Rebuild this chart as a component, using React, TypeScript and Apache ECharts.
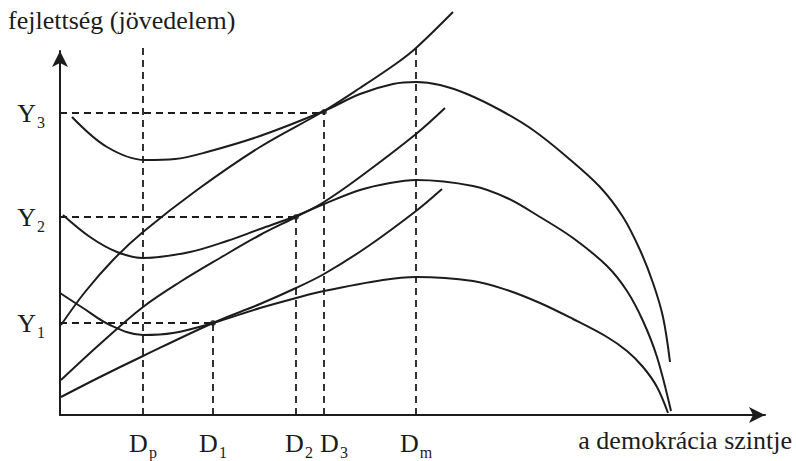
import React, { useEffect, useRef } from 'react';
import * as echarts from 'echarts';

// ---- texts ----
const yTitle = 'fejlettség (jövedelem)';
const xTitle = 'a demokrácia szintje';

// ---- tick labels (D with subscript, Y with subscript) ----
const dSubs = ['p', '1', '2', '3', 'm'];
const dValues = [83, 153, 236, 264, 356];
const dTops = [372, 92, 198, 303, 372];
const ySubs = ['1', '2', '3'];
const yValues = [92, 198, 302];
const yEnds = [153, 236, 264];

// ---- tangent points ----
const tangentPoints = [
  [153, 92],
  [236, 198],
  [264, 303],
];

// ---- humped curves ----
const curveTop = [
  [12, 298], [47, 268], [85, 255], [115, 256], [147, 263], [200, 279], [264, 304],
  [300, 321], [333, 331], [356, 333], [380, 330], [407, 321], [440, 305], [473, 285],
  [507, 258], [540, 228], [563, 198], [580, 165], [593, 132], [603, 98], [610, 53],
];
const curveMid = [
  [3, 200], [30, 178], [57, 163], [83, 157], [130, 163], [167, 174], [200, 186],
  [236, 199], [264, 211], [300, 225], [330, 232], [356, 235], [413, 229], [447, 217],
  [480, 198], [513, 177], [547, 149], [567, 124], [583, 94], [597, 58], [611, 4],
];
const curveLow = [
  [0, 122], [23, 107], [50, 90], [83, 80], [113, 82], [153, 92], [200, 107],
  [236, 117], [264, 124], [323, 135], [356, 138], [413, 134], [447, 125], [480, 112],
  [513, 96], [547, 78], [567, 64], [583, 48], [597, 28], [608, 2],
];

// ---- rising curves ----
const riseTop = [
  [1, 90], [25, 123], [53, 155], [83, 183], [137, 225], [200, 268], [264, 304],
  [300, 327], [337, 352], [356, 367], [393, 403],
];
const riseMid = [
  [1, 35], [40, 71], [83, 108], [120, 133], [160, 157], [200, 180], [236, 198],
  [264, 213], [300, 238], [356, 281], [385, 307],
];
const riseLow = [
  [1, 18], [40, 38], [83, 59], [153, 92], [200, 111], [236, 127], [264, 141],
  [307, 168], [356, 204], [382, 226],
];

const FONT = "'Liberation Serif', 'Times New Roman', serif";
const INK = '#1c1c1c';

export default function App() {
  const ref = useRef<HTMLDivElement>(null);
  useEffect(() => {
    if (!ref.current) return;
    const chart = echarts.init(ref.current, undefined, { renderer: 'svg' });

    const solid = (data: number[][]) => ({
      type: 'line',
      data,
      smooth: 0.35,
      showSymbol: false,
      clip: false,
      silent: true,
      lineStyle: { color: INK, width: 2 },
    });
    const dashed = (data: number[][]) => ({
      type: 'line',
      data,
      showSymbol: false,
      clip: false,
      silent: true,
      lineStyle: { color: INK, width: 1.8, type: [7, 5] },
    });

    const series: any[] = [];
    dValues.forEach((x, i) => series.push(dashed([[x, 0], [x, dTops[i]]])));
    yValues.forEach((y, i) => series.push(dashed([[0, y], [yEnds[i], y]])));
    [curveTop, curveMid, curveLow, riseTop, riseMid, riseLow].forEach((c) => series.push(solid(c)));
    series.push({
      type: 'scatter',
      data: tangentPoints,
      symbolSize: 6,
      clip: false,
      itemStyle: { color: INK },
      silent: true,
    });

    const main = { fontSize: 26, fontFamily: FONT, color: INK };
    const rich = {
      m: main,
      m2: { ...main, padding: [0, 0, 0, 6] },
      m3: { ...main, padding: [0, 0, 0, 20] },
      s: { fontSize: 16, fontFamily: FONT, color: INK, padding: [18, 0, 0, 1] },
    };
    const dStyle = (sub: string) => (sub === '2' ? 'm2' : sub === '3' ? 'm3' : 'm');

    chart.setOption({
      animation: false,
      textStyle: { fontFamily: FONT },
      title: [
        {
          text: yTitle,
          left: 8,
          top: 7,
          padding: 0,
          textStyle: { fontSize: 26, fontWeight: 'normal', fontFamily: FONT, color: INK },
        },
        {
          text: xTitle,
          right: 4,
          top: 427,
          padding: 0,
          textStyle: { fontSize: 26, fontWeight: 'normal', fontFamily: FONT, color: INK },
        },
      ],
      grid: { left: 60, right: 31, top: 51, bottom: 46 },
      xAxis: {
        type: 'value',
        min: 0,
        max: 705,
        splitLine: { show: false },
        axisTick: { show: false },
        axisLine: {
          lineStyle: { color: INK, width: 2 },
          symbol: ['none', 'arrow'],
          symbolSize: [12, 16],
        },
        axisLabel: {
          customValues: dValues,
          margin: 11,
          formatter: (v: number) => {
            const i = dValues.indexOf(v);
            return i < 0 ? '' : `{${dStyle(dSubs[i])}|D}{s|${dSubs[i]}}`;
          },
          rich,
        },
      },
      yAxis: {
        type: 'value',
        min: 0,
        max: 364,
        splitLine: { show: false },
        axisTick: { show: false },
        axisLine: {
          lineStyle: { color: INK, width: 2 },
          symbol: ['none', 'arrow'],
          symbolSize: [12, 16],
        },
        axisLabel: {
          customValues: yValues,
          margin: 15,
          formatter: (v: number) => {
            const i = yValues.indexOf(v);
            return i < 0 ? '' : `{m|Y}{s|${ySubs[i]}}`;
          },
          rich,
        },
      },
      series,
    });
    return () => chart.dispose();
  }, []);
  return (
    <div
      ref={ref}
      style={{ position: 'absolute', left: 0, top: 0, width: 796, height: 461, background: '#fff' }}
    />
  );
}
